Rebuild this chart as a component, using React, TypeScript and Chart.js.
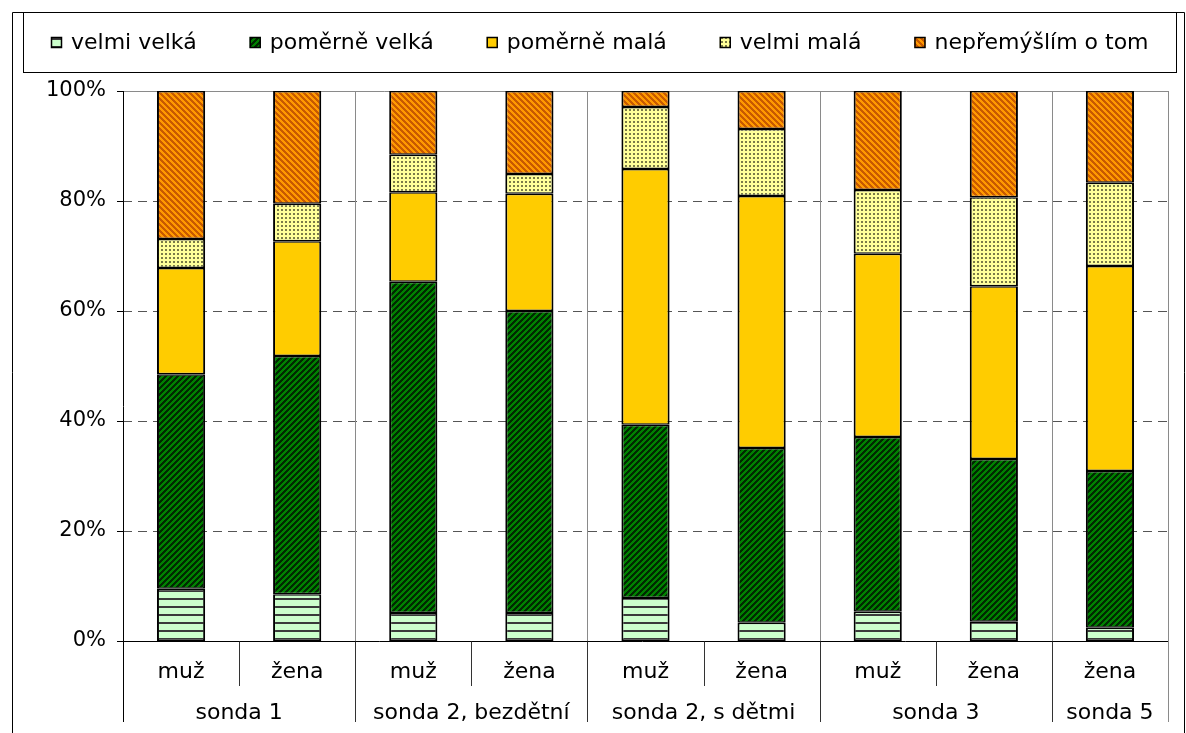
import React, { useEffect, useRef } from "react";
import { Chart, registerables } from "chart.js";

Chart.register(...registerables);

// ---- data ----
const categories = ["muž", "žena", "muž", "žena", "muž", "žena", "muž", "žena", "žena"];
const groups = ["sonda 1", "sonda 2, bezdětní", "sonda 2, s dětmi", "sonda 3", "sonda 5"];
const groupSizes = [2, 2, 2, 2, 1];
const seriesNames = ["velmi velká", "poměrně velká", "poměrně malá", "velmi malá", "nepřemýšlím o tom"];
const velmiVelka = [9.5, 8.5, 5.1, 5.1, 7.8, 3.3, 5.3, 3.5, 2.4];
const pomerneVelka = [39.0, 43.3, 60.2, 54.9, 31.5, 31.8, 31.8, 29.6, 28.5];
const pomerneMala = [19.3, 20.9, 16.3, 21.3, 46.5, 45.8, 33.3, 31.4, 37.3];
const velmiMala = [5.3, 6.8, 6.8, 3.6, 11.3, 12.2, 11.6, 16.2, 15.1];
const nepremyslim = [26.9, 20.5, 11.6, 15.1, 2.9, 6.9, 18.0, 19.3, 16.7];
const yTicks = [0, 20, 40, 60, 80, 100];

const FONT = "DejaVu Sans";

function tile(
  main: CanvasRenderingContext2D,
  w: number,
  h: number,
  draw: (c: CanvasRenderingContext2D) => void
): CanvasPattern | string {
  const cv = document.createElement("canvas");
  cv.width = w;
  cv.height = h;
  const c = cv.getContext("2d")!;
  draw(c);
  return main.createPattern(cv, "repeat") || "#888";
}

function makePatterns(main: CanvasRenderingContext2D) {
  const hLines = tile(main, 8, 8, (c) => {
    c.fillStyle = "#CCFFCC";
    c.fillRect(0, 0, 8, 8);
    c.fillStyle = "#3a3a3a";
    c.fillRect(0, 6, 8, 2);
  });
  const greenDiag = tile(main, 6, 6, (c) => {
    for (let y = 0; y < 6; y++)
      for (let x = 0; x < 6; x++) {
        c.fillStyle = (x + y) % 6 < 3 ? "#002a00" : "#008000";
        c.fillRect(x, y, 1, 1);
      }
  });
  const solidYellow = "#FFCC00";
  const dots = tile(main, 4, 4, (c) => {
    c.fillStyle = "#FFFF99";
    c.fillRect(0, 0, 4, 4);
    c.fillStyle = "#7a7a48";
    c.fillRect(1, 1, 2, 2);
  });
  const orangeDiag = tile(main, 6, 6, (c) => {
    for (let y = 0; y < 6; y++)
      for (let x = 0; x < 6; x++) {
        c.fillStyle = (((x - y) % 6) + 6) % 6 < 3 ? "#C85A00" : "#FF9900";
        c.fillRect(x, y, 1, 1);
      }
  });
  return [hLines, greenDiag, solidYellow, dots, orangeDiag];
}

export default function App() {
  const ref = useRef<HTMLCanvasElement>(null);

  useEffect(() => {
    const canvas = ref.current!;
    const ctx = canvas.getContext("2d")!;
    const fills = makePatterns(ctx);
    const seriesData = [velmiVelka, pomerneVelka, pomerneMala, velmiMala, nepremyslim];

    const boundaries = (chart: any) => {
      const xs = chart.scales.x;
      const area = chart.chartArea;
      const b: number[] = [area.left];
      for (let i = 0; i < categories.length - 1; i++) {
        b.push((xs.getPixelForValue(i) + xs.getPixelForValue(i + 1)) / 2);
      }
      b.push(area.right);
      return b;
    };

    const backPlugin = {
      id: "backLines",
      beforeDatasetsDraw(chart: any) {
        const c = chart.ctx;
        const area = chart.chartArea;
        const ys = chart.scales.y;
        c.save();
        c.strokeStyle = "#555";
        c.lineWidth = 1;
        c.setLineDash([9, 6]);
        yTicks.forEach((t) => {
          if (t === 0 || t === 100) return;
          const y = Math.round(ys.getPixelForValue(t)) + 0.5;
          c.beginPath();
          c.moveTo(area.left, y);
          c.lineTo(area.right, y);
          c.stroke();
        });
        c.setLineDash([]);
        c.strokeStyle = "#8a8a8a";
        const yTop = Math.round(ys.getPixelForValue(100)) + 0.5;
        c.beginPath();
        c.moveTo(area.left, yTop);
        c.lineTo(area.right, yTop);
        c.stroke();
        const b = boundaries(chart);
        let idx = 0;
        groupSizes.forEach((g) => {
          idx += g;
          const x = Math.round(b[idx]) + 0.5;
          c.beginPath();
          c.moveTo(x, area.top);
          c.lineTo(x, area.bottom);
          c.stroke();
        });
        c.restore();
      },
    };

    const frontPlugin = {
      id: "frontDecor",
      afterDraw(chart: any) {
        const c = chart.ctx;
        const area = chart.chartArea;
        const ys = chart.scales.y;
        const xs = chart.scales.x;
        const b = boundaries(chart);
        c.save();
        c.lineWidth = 1;
        // outer frame
        c.strokeStyle = "#000";
        c.beginPath();
        c.moveTo(12.5, 733);
        c.lineTo(12.5, 12.5);
        c.lineTo(1184.5, 12.5);
        c.lineTo(1184.5, 733);
        c.stroke();
        // legend box
        c.strokeRect(23.5, 12.5, 1153, 60);

        // legend items
        c.font = `22px ${FONT}`;
        c.textBaseline = "middle";
        c.textAlign = "left";
        const box = 11;
        const gapBoxText = 9;
        const itemGap = 53;
        const widths = seriesNames.map((n) => c.measureText(n).width);
        const total =
          widths.reduce((s, w) => s + w + box + gapBoxText, 0) + itemGap * (seriesNames.length - 1);
        let lx = Math.round(600 - total / 2);
        const ly = 42;
        seriesNames.forEach((n, i) => {
          c.fillStyle = fills[i] as any;
          c.fillRect(lx, ly - 5, box, box);
          c.strokeStyle = "#000";
          c.lineWidth = 1.5;
          c.strokeRect(lx + 0.5, ly - 4.5, box - 1, box - 1);
          c.fillStyle = "#000";
          c.fillText(n, lx + box + gapBoxText, ly + 1);
          lx += box + gapBoxText + widths[i] + itemGap;
        });
        c.lineWidth = 1;

        const bottomY = Math.round(ys.getPixelForValue(0)) + 0.5;
        c.strokeStyle = "#000";
        c.beginPath();
        c.moveTo(area.left - 6, bottomY);
        c.lineTo(area.right, bottomY);
        c.stroke();
        const lx0 = Math.round(area.left) + 0.5;
        c.beginPath();
        c.moveTo(lx0, Math.round(area.top));
        c.lineTo(lx0, 722);
        c.stroke();
        yTicks.forEach((t) => {
          const y = Math.round(ys.getPixelForValue(t)) + 0.5;
          c.beginPath();
          c.moveTo(area.left - 6, y);
          c.lineTo(area.left, y);
          c.stroke();
        });
        const groupEnds = new Set<number>();
        let acc = 0;
        groupSizes.forEach((g) => {
          acc += g;
          groupEnds.add(acc);
        });
        for (let i = 1; i <= categories.length; i++) {
          const x = Math.round(b[i]) + 0.5;
          const isGroup = groupEnds.has(i);
          c.strokeStyle = i === categories.length ? "#8a8a8a" : "#333";
          c.beginPath();
          c.moveTo(x, i === categories.length ? area.top : bottomY);
          c.lineTo(x, isGroup ? 722 : 686);
          c.stroke();
        }
        c.fillStyle = "#000";
        c.font = `22px ${FONT}`;
        c.textAlign = "center";
        c.textBaseline = "middle";
        categories.forEach((lab, i) => {
          c.fillText(lab, xs.getPixelForValue(i), 672);
        });
        let start = 0;
        groups.forEach((g, gi) => {
          const end = start + groupSizes[gi];
          const cx = (b[start] + b[end]) / 2;
          c.fillText(g, cx, 713);
          start = end;
        });
        c.restore();
      },
    };

    const chart = new Chart(canvas, {
      type: "bar",
      data: {
        labels: categories,
        datasets: seriesNames.map((name, i) => ({
          label: name,
          data: seriesData[i],
          backgroundColor: fills[i] as any,
          borderColor: "#000",
          borderWidth: { left: 2, right: 2, top: 1.5, bottom: 1.5 },
          borderSkipped: false,
          barPercentage: 0.415,
          categoryPercentage: 1,
        })),
      },
      options: {
        responsive: false,
        animation: false,
        events: [],
        layout: { padding: { left: 0, right: 18, top: 91, bottom: 92 } },
        plugins: {
          legend: { display: false },
          tooltip: { enabled: false },
          title: { display: false },
        },
        scales: {
          x: {
            stacked: true,
            display: false,
          },
          y: {
            stacked: true,
            min: 0,
            max: 100,
            afterFit: (scale: any) => {
              scale.width = 123;
            },
            afterBuildTicks: (scale: any) => {
              scale.ticks = yTicks.map((v) => ({ value: v }));
            },
            ticks: {
              padding: 17,
              color: "#000",
              font: { family: FONT, size: 21 },
              callback: (v: any) => `${v}%`,
            },
            grid: { display: false, drawTicks: false },
            border: { display: false },
          },
        },
      },
      plugins: [backPlugin, frontPlugin],
    });

    return () => chart.destroy();
  }, []);

  return (
    <div style={{ position: "absolute", left: 0, top: 0, width: 1186, height: 733, background: "#fff" }}>
      <canvas ref={ref} width={1186} height={733} style={{ display: "block" }} />
    </div>
  );
}
